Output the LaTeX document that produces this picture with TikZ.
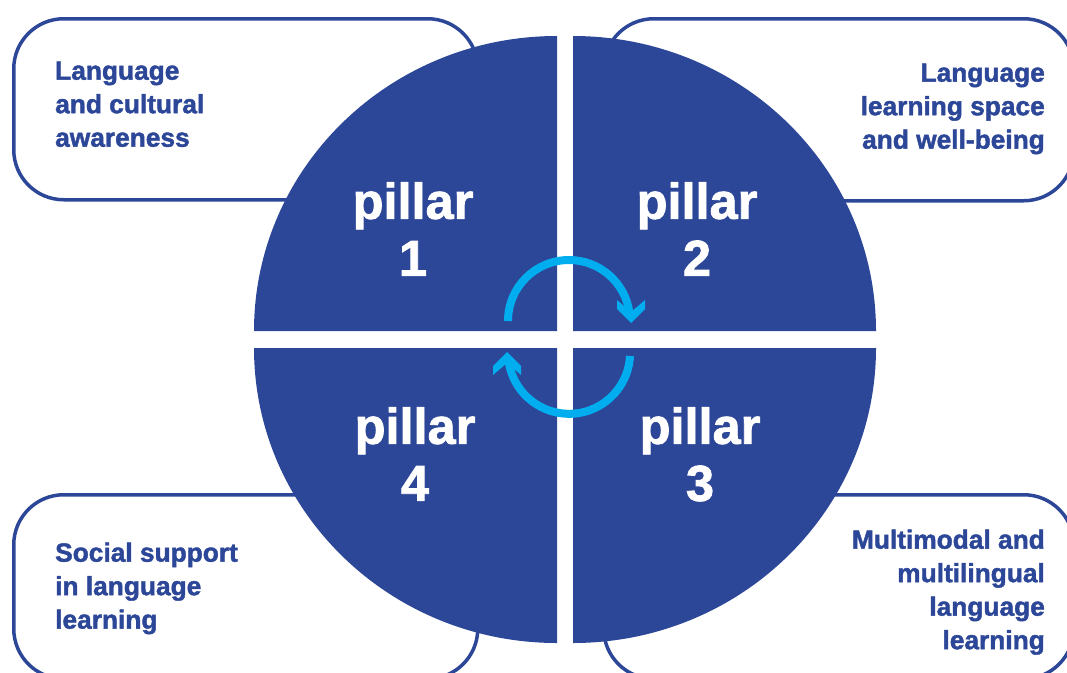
\documentclass[tikz,border=0pt]{standalone}
\usepackage{fontspec}
\setmainfont{Liberation Sans}[BoldFeatures={FakeBold=1.6}]
\definecolor{pblue}{RGB}{45,71,152}
\definecolor{pcyan}{RGB}{0,174,239}
\begin{document}
\begin{tikzpicture}[x=1pt,y=-1pt,
  box/.style={draw=pblue,line width=3.5pt,fill=white,rounded corners=50pt,
    rectangle,anchor=north west,inner sep=0pt},
  quad/.style={fill=pblue},
  boxtext/.style={text=pblue,font=\bfseries\fontsize{26.3}{33.5}\selectfont,inner sep=0pt},
  pillartext/.style={text=white,font=\bfseries\fontsize{50.5}{57}\selectfont,align=center,inner sep=0pt,anchor=north},
  cyc/.style={draw=pcyan,line width=8pt},
  chevron/.style={fill=pcyan}
]
\useasboundingbox (0,0) rectangle (1067,672);
\clip (0,0) rectangle (1067,672);
% boxes behind the circle
\node[box,minimum width=464pt,minimum height=181pt] (b1) at (12,17) {};
\node[box,minimum width=470pt,minimum height=182pt] (b2) at (602,17) {};
\node[box,minimum width=464pt,minimum height=184pt] (b4) at (12,493) {};
\node[box,minimum width=470pt,minimum height=184pt] (b3) at (602,493) {};
% quadrants
\fill[quad] (557,331) -- (254,331) arc[start angle=180,end angle=270,x radius=303,y radius=295] -- cycle;
\fill[quad] (573,331) -- (573,36) arc[start angle=270,end angle=360,x radius=303,y radius=295] -- cycle;
\fill[quad] (573,348) -- (876,348) arc[start angle=0,end angle=90,x radius=303,y radius=295] -- cycle;
\fill[quad] (557,348) -- (557,643) arc[start angle=90,end angle=180,x radius=303,y radius=295] -- cycle;
% cycle arrows
\draw[cyc] (508,321) arc[start angle=180,end angle=352,radius=61];
\fill[chevron,shift={(631,323)}] (0,0) -- (-14,-14) -- (-14,-23) -- (0,-11) -- (14,-23) -- (14,-14) -- cycle;
\draw[cyc] (630,356) arc[start angle=3,end angle=172,radius=61];
\fill[chevron,shift={(507,352)}] (0,0) -- (-14,14) -- (-14,23) -- (0,11) -- (14,23) -- (14,14) -- cycle;
% box texts
\node[boxtext,anchor=north west,align=left] (t1) at (55,61.4) {Language\\and cultural\\awareness};
\node[boxtext,anchor=north east,align=right] (t2) at (1045,63.4) {Language\\learning space\\and well-being};
\node[boxtext,anchor=north west,align=left] (t4) at (55,542.4) {Social support\\in language\\learning};
\node[boxtext,anchor=north east,align=right] (t3) at (1045,529.4) {Multimodal and\\multilingual\\language\\learning};
% pillar labels
\node[pillartext] (p1) at (413,182) {pillar\\1};
\node[pillartext] (p2) at (697,182) {pillar\\2};
\node[pillartext] (p3) at (700,407) {pillar\\3};
\node[pillartext] (p4) at (415,407) {pillar\\4};
\end{tikzpicture}
\end{document}
